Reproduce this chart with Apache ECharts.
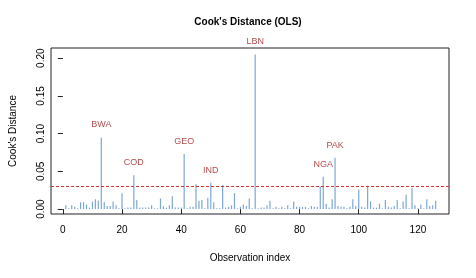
<!DOCTYPE html>
<html>
<head>
<meta charset="utf-8">
<script src="https://cdn.jsdelivr.net/npm/echarts@6/dist/echarts.min.js"></script>
<style>
html,body{margin:0;padding:0;background:#fff;}
#chart{width:476px;height:278px;}
</style>
</head>
<body>
<div id="chart"></div>
<script>
// Cook's distance per observation (index 1..126)
const cookValues = [
  0.005,0.001,0.005,0.003,0.001,0.009,0.009,0.006,0.002,0.010,
  0.013,0.011,0.095,0.009,0.004,0.004,0.010,0.005,0.001,0.021,
  0.001,0.002,0.002,0.045,0.012,0.002,0.002,0.002,0.002,0.005,
  0.001,0.001,0.014,0.004,0.002,0.005,0.017,0.002,0.002,0.002,
  0.073,0.001,0.003,0.003,0.033,0.011,0.012,0.001,0.015,0.035,
  0.009,0.001,0.001,0.032,0.002,0.003,0.005,0.021,0.001,0.003,
  0.006,0.004,0.014,0.001,0.205,0.001,0.002,0.002,0.005,0.011,
  0.001,0.003,0.001,0.003,0.001,0.005,0.001,0.010,0.003,0.003,
  0.003,0.003,0.001,0.004,0.003,0.003,0.030,0.043,0.007,0.002,
  0.013,0.068,0.004,0.003,0.003,0.001,0.003,0.013,0.004,0.026,
  0.003,0.002,0.031,0.010,0.002,0.002,0.007,0.001,0.012,0.003,
  0.002,0.004,0.012,0.001,0.010,0.019,0.001,0.028,0.005,0.001,
  0.006,0.001,0.013,0.004,0.005,0.011
];
const labelIdx = [13, 24, 41, 50, 65, 88, 92];
const labelNames = ['BWA', 'COD', 'GEO', 'IND', 'LBN', 'NGA', 'PAK'];
const threshold = 4 / cookValues.length;
const xTicks = [0, 20, 40, 60, 80, 100, 120];
const yTicks = [0, 0.05, 0.10, 0.15, 0.20];

const barData = cookValues.map((v, i) => [i + 1, v]);
const labelData = labelIdx.map((idx, k) => ({ name: labelNames[k], value: [idx, cookValues[idx - 1]] }));

const FONT = 'Liberation Sans, Arial, sans-serif';
const chart = echarts.init(document.getElementById('chart'), null, { renderer: 'canvas' });
chart.setOption({
  animation: false,
  backgroundColor: '#fff',
  graphic: [{
    type: 'text', x: 248, y: 22,
    style: { text: "Cook's Distance (OLS)", font: 'bold 10px ' + FONT, fill: '#000', align: 'center', verticalAlign: 'middle' }
  }],
  grid: { left: 50, top: 48, width: 399, height: 166, show: true, borderColor: '#222', borderWidth: 1, backgroundColor: 'transparent' },
  xAxis: {
    type: 'value', min: -4, max: 130.5,
    name: 'Observation index', nameLocation: 'middle', nameGap: 39,
    nameTextStyle: { fontFamily: FONT, fontSize: 10, color: '#000' },
    axisLine: { show: false },
    axisTick: { show: true, length: 5, inside: false, customValues: xTicks, lineStyle: { color: '#222' } },
    axisLabel: { customValues: xTicks, fontFamily: FONT, fontSize: 10, color: '#000', margin: 11 },
    splitLine: { show: false }
  },
  yAxis: {
    type: 'value', min: -0.0065, max: 0.2135,
    name: "Cook's Distance", nameLocation: 'middle', nameGap: 33, nameRotate: 90,
    nameTextStyle: { fontFamily: FONT, fontSize: 10, color: '#000' },
    axisLine: { show: false },
    axisTick: { show: true, length: 5, inside: false, customValues: yTicks, lineStyle: { color: '#222' } },
    axisLabel: { customValues: yTicks, rotate: 90, fontFamily: FONT, fontSize: 10, color: '#000', margin: 5,
      formatter: v => v.toFixed(2) },
    splitLine: { show: false }
  },
  series: [
    {
      type: 'custom',
      data: barData,
      clip: true,
      renderItem: function (params, api) {
        const p0 = api.coord([api.value(0), 0]);
        const p1 = api.coord([api.value(0), api.value(1)]);
        return {
          type: 'line',
          shape: { x1: p0[0], y1: p0[1], x2: p1[0], y2: p1[1] },
          style: { stroke: '#7ba7d7', lineWidth: 1.2 }
        };
      },
      markLine: {
        silent: true, symbol: 'none', label: { show: false },
        lineStyle: { color: '#d83030', type: [3, 2], width: 1 },
        data: [{ yAxis: threshold }]
      }
    },
    {
      type: 'scatter',
      data: labelData,
      symbolSize: 0,
      label: {
        show: true, position: 'top', distance: 8,
        formatter: p => p.name,
        fontFamily: FONT, fontSize: 9, color: '#a01c1c'
      }
    }
  ]
});
</script>
</body>
</html>
